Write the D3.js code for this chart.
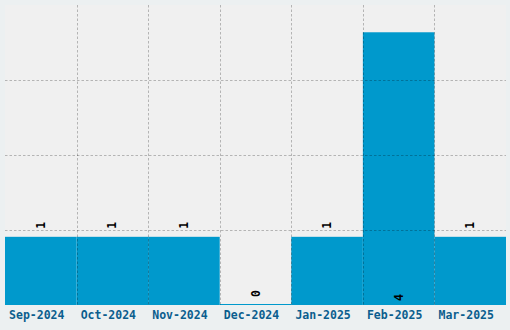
<!DOCTYPE html>
<html>
<head>
<meta charset="utf-8">
<script src="https://cdn.jsdelivr.net/npm/d3@7"></script>
<style>
  body { margin: 0; background: #ecf0f1; }
  svg { display: block; }
  .tick-label { font-family: "DejaVu Sans Mono", monospace; font-weight: bold; font-size: 11.5px; fill: #0b5e8e; }
  .val-label { font-family: "DejaVu Sans Mono", monospace; font-weight: bold; font-size: 11.5px; fill: #000; }
</style>
</head>
<body>
<div id="chart"></div>
<script>
const months = ["Sep-2024", "Oct-2024", "Nov-2024", "Dec-2024", "Jan-2025", "Feb-2025", "Mar-2025"];
const counts = [1, 1, 1, 0, 1, 4, 1];

const margin = { top: 5, right: 4, bottom: 25, left: 5 };
const width = 510 - margin.left - margin.right;
const height = 330 - margin.top - margin.bottom;

const svg = d3.select("#chart").append("svg")
    .attr("width", 510)
    .attr("height", 330);

svg.append("rect")
    .attr("width", 510).attr("height", 330)
    .attr("fill", "#ecf0f1");

const g = svg.append("g")
    .attr("transform", "translate(" + margin.left + "," + margin.top + ")");

g.append("rect")
    .attr("width", width).attr("height", height)
    .attr("fill", "#f0f0f0");

const yMax = d3.max(counts) * 1.1;

const x = d3.scaleBand().domain(months).range([0, width]).padding(0);
const y = d3.scaleLinear().domain([0, yMax]).range([height, 0]);

// bars
g.selectAll(".bar")
    .data(months)
  .enter().append("rect")
    .attr("class", "bar")
    .attr("x", (d) => x(d))
    .attr("width", x.bandwidth())
    .attr("y", (d, i) => Math.min(y(counts[i]), height - 1))
    .attr("height", (d, i) => Math.max(1, height - y(counts[i])))
    .attr("fill", "#0099cc");

// grid lines, drawn over the bars
const grid = g.append("g").attr("class", "grid");
grid.selectAll(".vgrid")
    .data(months.slice(1))
  .enter().append("line")
    .attr("x1", (d) => Math.round(x(d)) + 0.5)
    .attr("x2", (d) => Math.round(x(d)) + 0.5)
    .attr("y1", 0).attr("y2", height);

const gridVals = [1, 2, 3].map((k) => k * yMax / 4);
grid.selectAll(".hgrid")
    .data(gridVals)
  .enter().append("line")
    .attr("x1", 0).attr("x2", width)
    .attr("y1", (d) => Math.round(y(d)) + 0.5)
    .attr("y2", (d) => Math.round(y(d)) + 0.5);

grid.selectAll("line")
    .attr("stroke", "rgba(0,0,0,0.25)")
    .attr("stroke-width", 1)
    .attr("stroke-dasharray", "2.5,2");

// value labels, rotated
g.selectAll(".val-label")
    .data(months)
  .enter().append("text")
    .attr("class", "val-label")
    .attr("transform", function (d, i) {
        const cx = x(d) + x.bandwidth() / 2;
        const inside = (height - y(counts[i])) > height / 2;
        const ty = inside ? height - 4 : y(counts[i]) - 8;
        return "translate(" + cx + "," + ty + ") rotate(-90)";
    })
    .attr("dominant-baseline", "central")
    .attr("text-anchor", "start")
    .text((d, i) => counts[i]);

// x axis labels
g.selectAll(".tick-label")
    .data(months)
  .enter().append("text")
    .attr("class", "tick-label")
    .attr("x", (d) => x(d) + x.bandwidth() / 2 - 4)
    .attr("y", height + 14)
    .attr("text-anchor", "middle")
    .text((d) => d);
</script>
</body>
</html>
